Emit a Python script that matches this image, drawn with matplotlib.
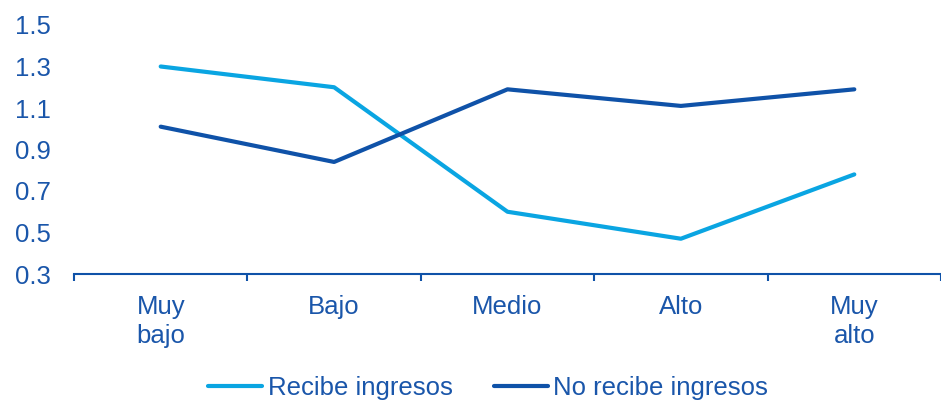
import numpy as np
import matplotlib.pyplot as plt

plt.rcParams['font.family'] = ['Liberation Sans', 'DejaVu Sans']

categories = ["Muy\nbajo", "Bajo", "Medio", "Alto", "Muy\nalto"]
recibe = [1.30, 1.20, 0.60, 0.47, 0.78]
no_recibe = [1.01, 0.84, 1.19, 1.11, 1.19]
yticks = [0.3, 0.5, 0.7, 0.9, 1.1, 1.3, 1.5]

light = "#0aa5e2"
dark = "#0f52a8"
txt = "#1a56aa"
fs = 18.5

fig = plt.figure(figsize=(9.41, 4.05), dpi=100)
ax = fig.add_axes([74/941, 131/405, 867/941, 249/405])

x = np.arange(len(categories))
ax.plot(x, recibe, color=light, lw=3, solid_capstyle='round', label="Recibe ingresos")
ax.plot(x, no_recibe, color=dark, lw=3, solid_capstyle='round', label="No recibe ingresos")

ax.set_xlim(-0.5, len(categories) - 0.5)
ax.set_ylim(0.3, 1.5)
ax.set_yticks(yticks)
ax.set_yticklabels([f"{v:.1f}" for v in yticks])
ax.tick_params(axis='y', length=0, pad=17, labelsize=fs, labelcolor=txt)

ax.set_xticks(x)
ax.set_xticklabels(categories, linespacing=1.28)
ax.set_xticks(np.arange(len(categories) + 1) - 0.5, minor=True)
ax.tick_params(axis='x', which='major', length=0, pad=15, labelsize=fs, labelcolor=txt)
ax.tick_params(axis='x', which='minor', length=5, width=1.5, color=dark, direction='out')

for s in ['top', 'right', 'left']:
    ax.spines[s].set_visible(False)
ax.spines['bottom'].set_color(dark)
ax.spines['bottom'].set_linewidth(1.5)

fig.legend(loc='center', bbox_to_anchor=(488/941, 1 - 388/405), ncol=2, frameon=False,
           fontsize=fs, labelcolor=txt, handlelength=2.1, handletextpad=0.2,
           columnspacing=1.6)

fig.savefig("out.png", dpi=100)
